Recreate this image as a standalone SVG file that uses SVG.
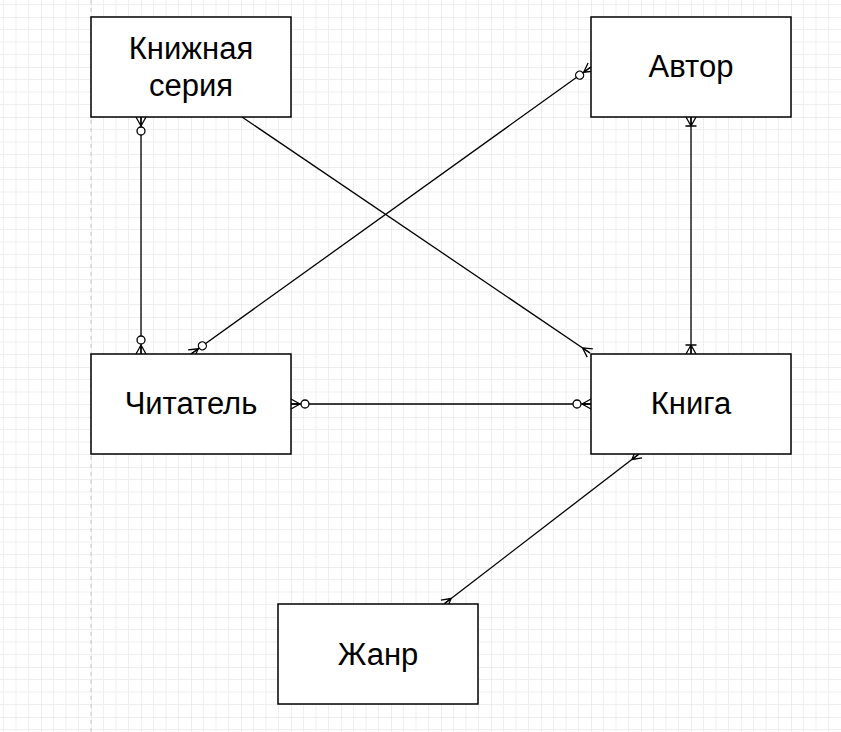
<svg xmlns="http://www.w3.org/2000/svg" width="841" height="732" viewBox="0 0 841 732">
<style>
.box{fill:#fff;stroke:#000;stroke-width:1.5}
.lbl{font-family:"Liberation Sans",Arial,sans-serif;font-size:31px;fill:#000;text-anchor:middle;dominant-baseline:central}
.edge{fill:none;stroke:#000;stroke-width:1.3}
.mk{fill:none;stroke:#000;stroke-width:1.3}
</style>
<defs>
<pattern id="grid" patternUnits="userSpaceOnUse" x="-9" y="17" width="50" height="50">
<path d="M12.5 0V50M25 0V50M37.5 0V50M0 12.5H50M0 25H50M0 37.5H50" stroke="#efefef" stroke-width="1"/>
<path d="M0 0V50M0 0H50" stroke="#dcdcdc" stroke-width="1"/>
</pattern>
<marker id="many" markerUnits="userSpaceOnUse" orient="auto-start-reverse" refX="0" refY="0" viewBox="-20 -10 22 20" markerWidth="22" markerHeight="20" overflow="visible">
<path class="mk" d="M-9 0L0 -5M-9 0L0 0M-9 0L0 5"/>
</marker>
<marker id="zmany" markerUnits="userSpaceOnUse" orient="auto-start-reverse" refX="0" refY="0" viewBox="-20 -10 22 20" markerWidth="22" markerHeight="20" overflow="visible">
<path class="mk" d="M-9 0L0 -5M-9 0L0 0M-9 0L0 5"/>
<circle cx="-14" cy="0" r="4" fill="#fff" stroke="#000" stroke-width="1.3"/>
</marker>
<marker id="omany" markerUnits="userSpaceOnUse" orient="auto-start-reverse" refX="0" refY="0" viewBox="-20 -10 22 20" markerWidth="22" markerHeight="20" overflow="visible">
<path class="mk" d="M-9 0L0 -5M-9 0L0 0M-9 0L0 5M-9 -5.5L-9 5.5"/>
</marker>
</defs>
<rect width="841" height="732" fill="#fff"/>
<rect width="841" height="732" fill="url(#grid)"/>
<line x1="91" y1="0" x2="91" y2="732" stroke="#c8c8c8" stroke-width="1" stroke-dasharray="4 4"/>
<g id="connectors">
<line class="edge" x1="141" y1="117" x2="141" y2="354" marker-start="url(#zmany)" marker-end="url(#zmany)"/>
<line class="edge" x1="242" y1="117" x2="590" y2="353" marker-end="url(#many)"/>
<line class="edge" x1="191" y1="354" x2="591" y2="67" marker-start="url(#zmany)" marker-end="url(#zmany)"/>
<line class="edge" x1="291" y1="404" x2="591" y2="404" marker-start="url(#zmany)" marker-end="url(#zmany)"/>
<line class="edge" x1="691" y1="117" x2="691" y2="354" marker-start="url(#omany)" marker-end="url(#omany)"/>
<line class="edge" x1="639" y1="454" x2="444" y2="604" marker-start="url(#many)" marker-end="url(#many)"/>
</g>
<g id="node-series">
<rect class="box" x="91" y="17" width="200" height="100"/>
<text class="lbl" x="191" y="48.5">Книжная</text>
<text class="lbl" x="191" y="85">серия</text>
</g>
<g id="node-author">
<rect class="box" x="591" y="17" width="200" height="100"/>
<text class="lbl" x="691" y="66.5">Автор</text>
</g>
<g id="node-reader">
<rect class="box" x="91" y="354" width="200" height="100"/>
<text class="lbl" x="191" y="403.5">Читатель</text>
</g>
<g id="node-book">
<rect class="box" x="591" y="354" width="200" height="100"/>
<text class="lbl" x="691" y="403.5">Книга</text>
</g>
<g id="node-genre">
<rect class="box" x="278" y="604" width="200" height="100"/>
<text class="lbl" x="378" y="654.5">Жанр</text>
</g>
</svg>
